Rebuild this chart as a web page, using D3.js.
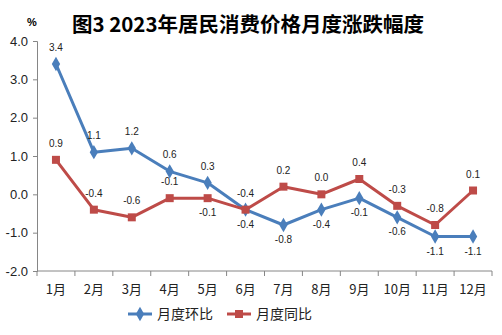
<!DOCTYPE html>
<html>
<head>
<meta charset="utf-8">
<script src="https://cdn.jsdelivr.net/npm/d3@7"></script>
<style>
  body { margin: 0; background: #fff; }
  text { font-family: "Liberation Sans", "Noto Sans CJK SC", sans-serif; }
</style>
</head>
<body>
<div id="chart"></div>
<script>
// Chart data
var months = ["1月", "2月", "3月", "4月", "5月", "6月", "7月", "8月", "9月", "10月", "11月", "12月"];
var huanbi = [3.4, 1.1, 1.2, 0.6, 0.3, -0.4, -0.8, -0.4, -0.1, -0.6, -1.1, -1.1];
var tongbi = [0.9, -0.4, -0.6, -0.1, -0.1, -0.4, 0.2, 0.0, 0.4, -0.3, -0.8, 0.1];
var yTicks = [4.0, 3.0, 2.0, 1.0, 0.0, -1.0, -2.0];
// label side per point: 1 = above, -1 = below
var huanbiSide = [1, 1, 1, 1, 1, 1, -1, -1, -1, -1, -1, -1];
var tongbiSide = [1, 1, 1, 1, -1, -1, 1, 1, 1, 1, 1, 1];

var svgWidth = 502;
var svgHeight = 335;

var margin = { top: 41, right: 10, bottom: 64, left: 37 };
var width = svgWidth - margin.left - margin.right;
var height = svgHeight - margin.top - margin.bottom;

var svg = d3.select("#chart")
  .append("svg")
  .attr("width", svgWidth)
  .attr("height", svgHeight);

// Title
svg.append("text")
  .attr("x", 248)
  .attr("y", 32)
  .attr("text-anchor", "middle")
  .attr("font-size", "20.5px")
  .attr("font-weight", "bold")
  .attr("fill", "#000")
  .style("font-family", "'Noto Sans CJK SC', sans-serif")
  .text("图3 2023年居民消费价格月度涨跌幅度");

// Unit label
svg.append("text")
  .attr("x", 32)
  .attr("y", 26)
  .attr("text-anchor", "middle")
  .attr("font-size", "11px")
  .attr("font-weight", "bold")
  .text("%");

var chartGroup = svg.append("g")
  .attr("transform", `translate(${margin.left}, ${margin.top})`);

var xScale = d3.scaleBand()
  .domain(months)
  .range([0, width]);

var yScale = d3.scaleLinear()
  .domain([-2, 4])
  .range([height, 0]);

// Y axis
var leftAxis = d3.axisLeft(yScale)
  .tickValues(yTicks)
  .tickSize(4)
  .tickPadding(5)
  .tickFormat(d3.format(".1f"));

var yAxis = chartGroup.append("g").call(leftAxis);
yAxis.select(".domain").attr("stroke", "#868686");
yAxis.selectAll(".tick line").attr("stroke", "#868686");
yAxis.selectAll(".tick text")
  .attr("font-size", "13px")
  .attr("fill", "#222")
  .text(d => d3.format(".1f")(d).replace("−", "-"));

// X axis with ticks between categories
var xAxis = chartGroup.append("g")
  .attr("transform", `translate(0, ${height})`);
xAxis.append("line")
  .attr("x1", 0).attr("x2", width)
  .attr("stroke", "#868686");
xAxis.selectAll("line.tk")
  .data(d3.range(months.length + 1))
  .enter()
  .append("line")
  .attr("class", "tk")
  .attr("x1", i => i * xScale.step())
  .attr("x2", i => i * xScale.step())
  .attr("y1", 0)
  .attr("y2", 5)
  .attr("stroke", "#868686");
xAxis.selectAll("text")
  .data(months)
  .enter()
  .append("text")
  .attr("x", d => xScale(d) + xScale.bandwidth() / 2)
  .attr("y", 23)
  .attr("text-anchor", "middle")
  .attr("font-size", "13px")
  .attr("fill", "#222")
  .style("font-family", "'Noto Sans CJK SC', sans-serif")
  .text(d => d);

var cx = (d, i) => xScale(months[i]) + xScale.bandwidth() / 2;

var line = d3.line()
  .x((d, i) => cx(d, i))
  .y(d => yScale(d));

var series = [
  { name: "月度环比", values: huanbi, side: huanbiSide, color: "#4A7EBB", shape: d3.symbolDiamond },
  { name: "月度同比", values: tongbi, side: tongbiSide, color: "#BE4B48", shape: d3.symbolSquare }
];

series.forEach(function(s) {
  chartGroup.append("path")
    .datum(s.values)
    .attr("fill", "none")
    .attr("stroke", s.color)
    .attr("stroke-width", 3)
    .attr("stroke-linejoin", "round")
    .attr("d", line);

  chartGroup.selectAll(null)
    .data(s.values)
    .enter()
    .append("path")
    .attr("transform", (d, i) => `translate(${cx(d, i)}, ${yScale(d)})`)
    .attr("d", d3.symbol().type(s.shape).size(s.shape === d3.symbolSquare ? 64 : 60))
    .attr("fill", s.color);

  chartGroup.selectAll(null)
    .data(s.values)
    .enter()
    .append("text")
    .attr("x", (d, i) => cx(d, i))
    .attr("y", (d, i) => yScale(d) + (s.side[i] > 0 ? -13 : 18))
    .attr("text-anchor", "middle")
    .attr("font-size", "10px")
    .attr("fill", "#222")
    .text(d => d.toFixed(1));
});

// Legend
var legend = svg.append("g").attr("transform", "translate(128, 314)");
series.forEach(function(s, i) {
  var g = legend.append("g").attr("transform", `translate(${i * 99}, 0)`);
  g.append("line")
    .attr("x1", 0).attr("x2", 24)
    .attr("stroke", s.color)
    .attr("stroke-width", 3);
  g.append("path")
    .attr("transform", "translate(12, 0)")
    .attr("d", d3.symbol().type(s.shape).size(s.shape === d3.symbolSquare ? 64 : 60))
    .attr("fill", s.color);
  g.append("text")
    .attr("x", 29)
    .attr("y", 5)
    .attr("font-size", "14px")
    .attr("fill", "#222")
    .style("font-family", "'Noto Sans CJK SC', sans-serif")
    .text(s.name);
});
</script>
</body>
</html>
